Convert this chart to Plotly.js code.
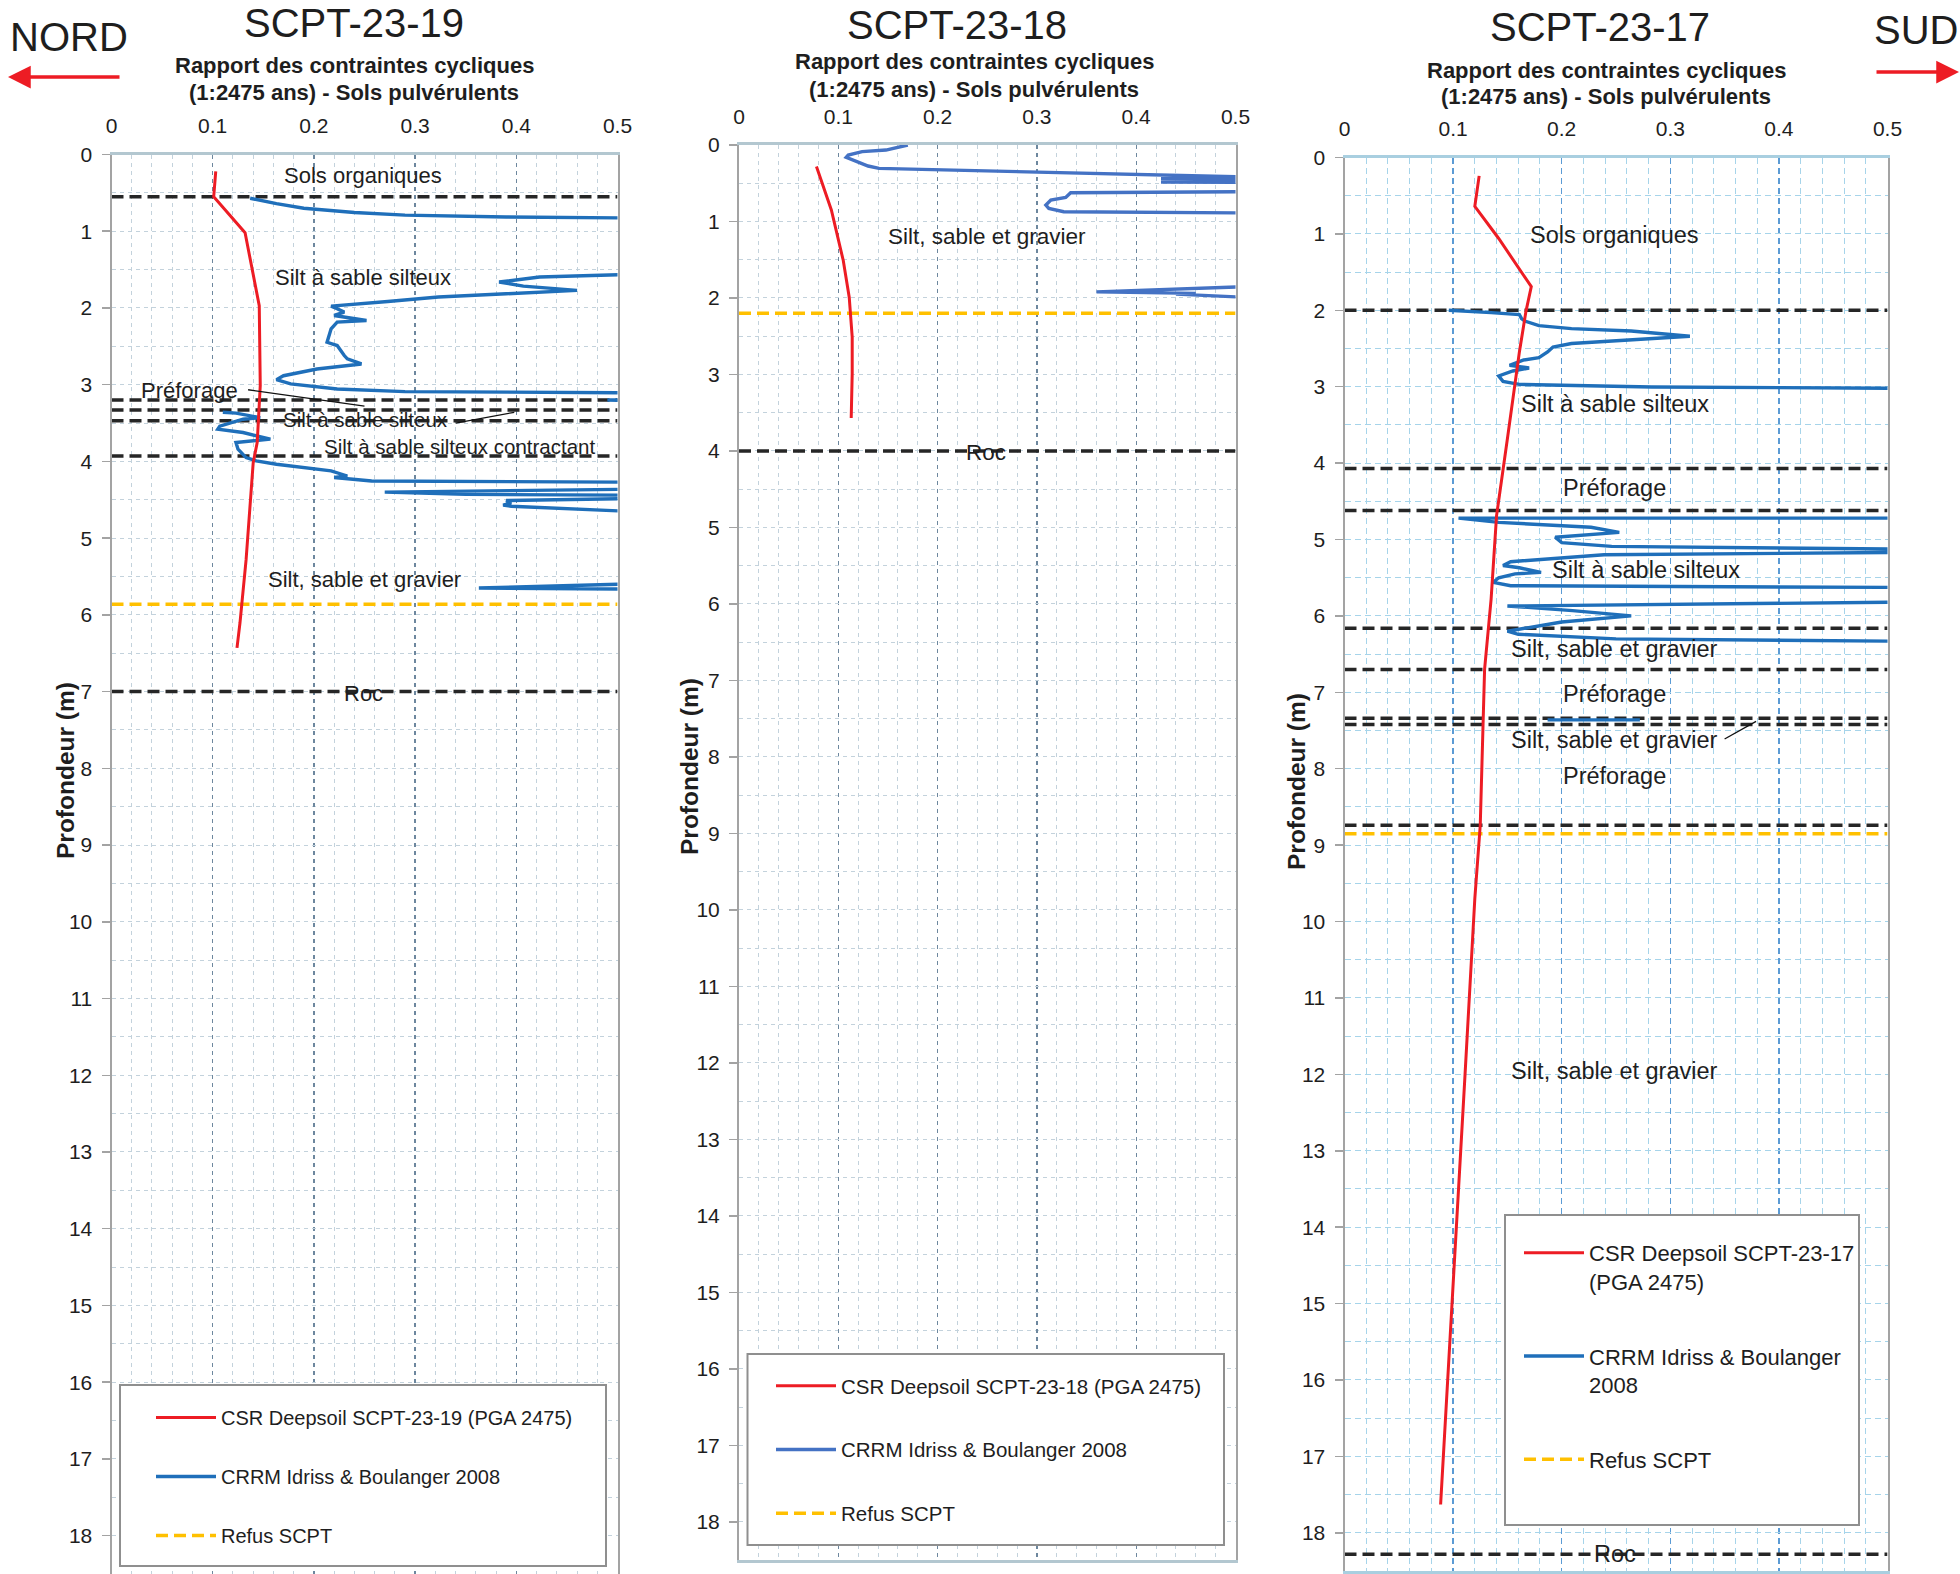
<!DOCTYPE html>
<html><head><meta charset="utf-8">
<script src="https://cdn.plot.ly/plotly-3.0.1.min.js"></script>
<style>html,body{margin:0;padding:0;background:#fff}</style>
</head><body><div id="chart" style="width:1960px;height:1574px"></div>
<script>
// ---------------- DATA ----------------
const boreholes = ['SCPT-23-19', 'SCPT-23-18', 'SCPT-23-17'];
const subtitle1 = 'Rapport des contraintes cycliques';
const subtitle2 = '(1:2475 ans) - Sols pulvérulents';
const yTitle = 'Profondeur (m)';
const csrNames = ['CSR Deepsoil SCPT-23-19 (PGA 2475)', 'CSR Deepsoil SCPT-23-18 (PGA 2475)', 'CSR Deepsoil SCPT-23-17<br>(PGA 2475)'];
const crrNames = ['CRRM Idriss & Boulanger 2008', 'CRRM Idriss & Boulanger 2008', 'CRRM Idriss & Boulanger<br>2008'];
const refusName = 'Refus SCPT';

// SCPT-23-19
const csr19_depth = [0.22, 0.55, 1.02, 1.97, 3.01, 3.75, 4.02, 5.28, 6.1, 6.43];
const csr19_val   = [0.103, 0.101, 0.132, 0.146, 0.147, 0.144, 0.140, 0.133, 0.127, 0.124];
const crr19_depth = [0.57,0.64,0.70,0.755,0.79,0.815,0.826,0.83, null,
  1.56,1.566,1.597,1.662,1.715,1.771,1.815,1.858,1.915,1.976,2.01,2.054,2.098,2.163,2.185,2.272,2.447,2.49,2.62,2.664,2.73,2.795,2.883,2.934,2.99,3.056,3.09,3.109,3.115,3.16,3.2,3.23, null,
  3.36,3.37,3.43,3.45,3.54,3.58,3.623,3.71,3.754,3.84,3.95,3.993,4.037,4.124,4.19,4.21,4.255,4.268,4.277,4.28,4.36,4.364,4.4,4.43,4.44,4.445,4.48,4.486,4.51,4.54,4.57,4.585,4.62,4.645,4.65, null,
  5.59,5.6,5.65,5.67,5.675];
const crr19_val = [0.137,0.163,0.19,0.24,0.29,0.39,0.502,0.65, null,
  0.65,0.502,0.423,0.383,0.407,0.46,0.39,0.323,0.273,0.217,0.223,0.23,0.22,0.252,0.223,0.217,0.213,0.223,0.23,0.233,0.247,0.203,0.17,0.163,0.177,0.223,0.29,0.502,0.65,0.65,0.49,0.65, null,
  0.11,0.123,0.147,0.13,0.107,0.105,0.13,0.157,0.123,0.125,0.133,0.143,0.163,0.217,0.233,0.22,0.257,0.357,0.502,0.65,0.65,0.502,0.27,0.35,0.502,0.65,0.65,0.502,0.39,0.395,0.387,0.395,0.45,0.502,0.65, null,
  0.65,0.502,0.363,0.502,0.65];
const layers19_depth = [0.55, 3.2, 3.33, 3.47, 3.93, 7.0];
const refus19_depth = 5.86;

// SCPT-23-18
const csr18_depth = [0.28, 0.85, 1.51, 1.99, 2.51, 2.99, 3.57];
const csr18_val   = [0.078, 0.093, 0.105, 0.111, 0.114, 0.114, 0.113];
const crr18_depth = [0.0,0.03,0.066,0.087,0.131,0.16,0.205,0.275,0.306,0.328,0.358,0.393,0.415,0.42,0.43,0.44,0.455,0.465,0.475,0.485,0.49,
  0.6,0.611,0.624,0.686,0.72,0.786,0.83,0.873,0.895,0.9,
  1.85,1.856,1.92,1.93,1.94,1.95,1.987,1.99];
const crr18_val = [0.17,0.158,0.148,0.124,0.11,0.108,0.117,0.13,0.141,0.219,0.321,0.423,0.502,0.65,0.65,0.425,0.65,0.428,0.65,0.425,0.65,
  0.65,0.502,0.334,0.329,0.314,0.309,0.312,0.327,0.502,0.65,
  0.65,0.502,0.36,0.42,0.46,0.44,0.502,0.65];
const layers18_depth = [4.0];
const refus18_depth = 2.2;

// SCPT-23-17
const csr17_depth = [0.24, 0.64, 1.06, 1.69, 2.02, 2.55, 3.68, 4.69, 5.78, 6.7, 8.74, 9.7, 12.0, 14.0, 16.0, 17.63];
const csr17_val   = [0.124, 0.120, 0.142, 0.172, 0.167, 0.161, 0.150, 0.140, 0.135, 0.129, 0.125, 0.120, 0.111, 0.103, 0.095, 0.0885];
const crr17_depth = [2.0,2.007,2.03,2.055,2.108,2.14,2.2,2.24,2.27,2.34,2.39,2.435,2.48,2.545,2.62,2.65,2.72,2.755,2.794,2.86,2.93,2.97,3.004,3.026,3.03, null,
  4.72,4.72,4.775,4.84,4.906,4.97,5.04,5.09,5.125,5.13,5.165,5.17,5.2,5.29,5.34,5.37,5.43,5.45,5.5,5.56,5.605,5.627,5.635,5.8,5.82,5.87,5.93,6.0,6.08,6.2,6.24,6.3,6.33,6.335, null,
  7.36,7.36];
const crr17_val = [0.096,0.109,0.135,0.161,0.163,0.166,0.179,0.209,0.264,0.318,0.264,0.209,0.192,0.187,0.179,0.165,0.152,0.17,0.155,0.142,0.146,0.161,0.283,0.503,0.65, null,
  0.65,0.105,0.142,0.227,0.253,0.194,0.2,0.246,0.503,0.65,0.65,0.503,0.239,0.153,0.146,0.161,0.181,0.157,0.142,0.137,0.153,0.503,0.65,0.65,0.503,0.15,0.21,0.264,0.2,0.15,0.16,0.25,0.503,0.65, null,
  0.187,0.272];
const layers17_depth = [2.0, 4.07, 4.62, 6.16, 6.7, 7.34, 7.42, 8.74, 18.28];
const refus17_depth = 8.85;

// ---------------- STYLE / LAYOUT ----------------
const W = 1960, H = 1574;
const XMIN = 0, XMAX = 0.5, DMAX = 18.5;
const px = v => v / W, py = v => 1 - v / H;
const BASE = "'Liberation Sans', Arial, Helvetica, sans-serif";
const RED = '#ed1c24', BLUE = '#1f6fba', BLUE18 = '#4472c4', YEL = '#ffc000', BLK = '#262626';
const TXT = '#1e1e1e';

function hlines(depths) {
  const x = [], y = [];
  depths.forEach(d => { x.push(XMIN, XMAX, null); y.push(d, d, null); });
  return {x, y};
}

const panels = [
  {xa:'x', ya:'y', leg:'legend', csr:[csr19_val, csr19_depth], crr:[crr19_val, crr19_depth], layers:layers19_depth, refus:refus19_depth, blue:BLUE},
  {xa:'x2', ya:'y2', leg:'legend2', csr:[csr18_val, csr18_depth], crr:[crr18_val, crr18_depth], layers:layers18_depth, refus:refus18_depth, blue:BLUE18},
  {xa:'x3', ya:'y3', leg:'legend3', csr:[csr17_val, csr17_depth], crr:[crr17_val, crr17_depth], layers:layers17_depth, refus:refus17_depth, blue:BLUE}
];

const traces = [];
panels.forEach((p, i) => {
  const hl = hlines(p.layers);
  traces.push({type:'scatter', mode:'lines', x:hl.x, y:hl.y, xaxis:p.xa, yaxis:p.ya, showlegend:false,
    line:{color:BLK, width:3.5, dash:'12px,6px'}, hoverinfo:'skip'});
  traces.push({type:'scatter', mode:'lines', x:[XMIN, XMAX], y:[p.refus, p.refus], xaxis:p.xa, yaxis:p.ya, showlegend:false,
    line:{color:YEL, width:3.5, dash:'12px,6px'}, hoverinfo:'skip'});
  traces.push({type:'scatter', mode:'lines', x:p.crr[0], y:p.crr[1], xaxis:p.xa, yaxis:p.ya, name:crrNames[i],
    legend:p.leg, legendgroup:'b'+i, connectgaps:false, line:{color:p.blue, width:3.4}, showlegend:false});
  traces.push({type:'scatter', mode:'lines', x:p.csr[0], y:p.csr[1], xaxis:p.xa, yaxis:p.ya, name:csrNames[i],
    legend:p.leg, legendgroup:'a'+i, line:{color:RED, width:3}});
  // legend entries in order CSR / CRRM / Refus
  traces.push({type:'scatter', mode:'lines', x:[null], y:[null], xaxis:p.xa, yaxis:p.ya, name:crrNames[i],
    legend:p.leg, legendgroup:'b'+i, line:{color:p.blue, width:3.4}});
  traces.push({type:'scatter', mode:'lines', x:[null], y:[null], xaxis:p.xa, yaxis:p.ya, name:refusName,
    legend:p.leg, legendgroup:'c'+i, line:{color:YEL, width:3.5, dash:'12px,6px'}});
});

const gridA = {major:'#6d879e', minor:'#c3d2dc', top:'#b3c7d0', dash:'4px,4px'};
const gridB = {major:'#5b9bd5', minor:'#a6d4ea', top:'#a9cfe0', dash:'6px,4px'};

function xax(dom, g, anchor) {
  return {domain:dom, range:[XMIN, XMAX], anchor:anchor, side:'top', dtick:0.1, tick0:0,
    showgrid:true, gridcolor:g.major, griddash:g.dash, gridwidth:1.3, zeroline:false,
    showline:true, linecolor:g.top, linewidth:3, mirror:true, ticks:'',
    tickfont:{family:BASE, size:21, color:TXT}, ticklabelstandoff:10,
    minor:{dtick:0.02, showgrid:true, gridcolor:g.minor, griddash:g.dash, gridwidth:1}, fixedrange:true};
}
function yax(dom, g, anchor) {
  return {domain:dom, range:[DMAX, 0], anchor:anchor, dtick:1, tick0:0,
    showgrid:true, gridcolor:g.minor, griddash:g.dash, gridwidth:1, zeroline:false,
    showline:true, linecolor:'#a3a3a3', linewidth:2, mirror:true, ticks:'outside', ticklen:8, tickwidth:1.5, tickcolor:'#a3a3a3',
    tickfont:{family:BASE, size:21, color:TXT}, ticklabelstandoff:5,
    minor:{dtick:0.5, showgrid:true, gridcolor:g.minor, griddash:g.dash, gridwidth:1}, fixedrange:true};
}

const ann = [];
function txt(text, x, y, size, opts) {
  ann.push(Object.assign({text:text, x:x, y:y, xref:'paper', yref:'paper', showarrow:false,
    xanchor:'center', yanchor:'middle', font:{family:BASE, size:size, color:TXT}}, opts || {}));
}
// titles
txt(boreholes[0], px(354), py(23), 40);
txt(boreholes[1], px(957), py(25), 40);
txt(boreholes[2], px(1600), py(27), 40);
txt('NORD', px(69), py(37), 40);
txt('SUD', px(1916), py(30), 40);
[[354,65,92],[974,62,89],[1606,70,97]].forEach(c => {
  txt('<b>' + subtitle1 + '</b>', px(c[0]), py(c[1]), 22);
  txt('<b>' + subtitle2 + '</b>', px(c[0]), py(c[2]), 22);
});
[[65,771],[689,767],[1296,782]].forEach(c => txt('<b>' + yTitle + '</b>', px(c[0]), py(c[1]), 24.5, {textangle:-90}));

// arrows
ann.push({text:'', x:px(8), y:py(77), xref:'paper', yref:'paper', ax:113, ay:0, showarrow:true,
  arrowhead:2, arrowsize:1.3, arrowwidth:3.5, arrowcolor:RED});
ann.push({text:'', x:px(1962), y:py(72), xref:'paper', yref:'paper', ax:-87, ay:0, showarrow:true,
  arrowhead:2, arrowsize:1.3, arrowwidth:3.5, arrowcolor:RED});

// layer labels (data coords)
function lab(text, x, y, xa, ya, size) {
  ann.push({text:text, x:x, y:y, xref:xa, yref:ya, showarrow:false, xanchor:'center', yanchor:'middle',
    font:{family:BASE, size:size, color:TXT}});
}
lab('Sols organiques', 0.249, 0.28, 'x', 'y', 22);
lab('Silt à sable silteux', 0.249, 1.6, 'x', 'y', 22);
lab('Préforage', 0.077, 3.07, 'x', 'y', 22);
lab('Silt à sable silteux', 0.251, 3.45, 'x', 'y', 20.5);
lab('Silt à sable silteux contractant', 0.344, 3.8, 'x', 'y', 20.5);
lab('Silt, sable et gravier', 0.25, 5.54, 'x', 'y', 22);
lab('Roc', 0.249, 7.02, 'x', 'y', 22);
lab('Silt, sable et gravier', 0.25, 1.19, 'x2', 'y2', 22.5);
lab('Roc', 0.249, 4.02, 'x2', 'y2', 22.5);
lab('Sols organiques', 0.249, 1.01, 'x3', 'y3', 23.5);
lab('Silt à sable silteux', 0.249, 3.22, 'x3', 'y3', 23.5);
lab('Préforage', 0.249, 4.32, 'x3', 'y3', 23.5);
lab('Silt à sable silteux', 0.278, 5.4, 'x3', 'y3', 23.5);
lab('Silt, sable et gravier', 0.249, 6.43, 'x3', 'y3', 23.5);
lab('Préforage', 0.249, 7.02, 'x3', 'y3', 23.5);
lab('Silt, sable et gravier', 0.249, 7.63, 'x3', 'y3', 23.5);
lab('Préforage', 0.249, 8.09, 'x3', 'y3', 23.5);
lab('Silt, sable et gravier', 0.249, 11.96, 'x3', 'y3', 23.5);
lab('Roc', 0.249, 18.28, 'x3', 'y3', 23.5);

const shapes = [];
function leader(x0, y0, x1, y1, xa, ya) {
  shapes.push({type:'line', xref:xa, yref:ya, x0:x0, y0:y0, x1:x1, y1:y1, line:{color:'#111', width:1.3}});
}
leader(0.135, 3.066, 0.25, 3.28, 'x', 'y');
leader(0.34, 3.5, 0.398, 3.36, 'x', 'y');
leader(0.35, 7.61, 0.379, 7.38, 'x3', 'y3');
function box(l, t, r, b) {
  shapes.push({type:'rect', xref:'paper', yref:'paper', x0:px(l), x1:px(r), y0:py(b), y1:py(t),
    fillcolor:'#ffffff', line:{color:'#8f8f8f', width:2}, layer:'above'});
}
box(120, 1385, 606, 1566);
box(747.5, 1354, 1224, 1545);
box(1505, 1215, 1859, 1525);

function legendCfg(l, t, size, gap) {
  return {x:px(l), y:py(t), xanchor:'left', yanchor:'top', bgcolor:'rgba(0,0,0,0)', borderwidth:0,
    font:{family:BASE, size:size, color:TXT}, tracegroupgap:gap, itemwidth:60, valign:'top'};
}

const layout = {
  width:W, height:H, margin:{l:0, r:0, t:0, b:0}, paper_bgcolor:'#fff', plot_bgcolor:'#fff',
  showlegend:true, hovermode:false,
  xaxis: xax([px(111.5), px(617.5)], gridA, 'y'),
  yaxis: yax([0, py(154.5)], gridA, 'x'),
  xaxis2: xax([px(739), px(1235.5)], gridA, 'y2'),
  yaxis2: yax([py(1560), py(145)], gridA, 'x2'),
  xaxis3: xax([px(1344.5), px(1887.5)], gridB, 'y3'),
  yaxis3: yax([py(1571), py(157.5)], gridB, 'x3'),
  legend: legendCfg(151, 1398, 20, 30),
  legend2: legendCfg(771, 1366, 20.5, 34),
  legend3: legendCfg(1519, 1232, 22, 43),
  annotations: ann, shapes: shapes
};

Plotly.newPlot('chart', traces, layout, {displayModeBar:false, staticPlot:true});
</script></body></html>
